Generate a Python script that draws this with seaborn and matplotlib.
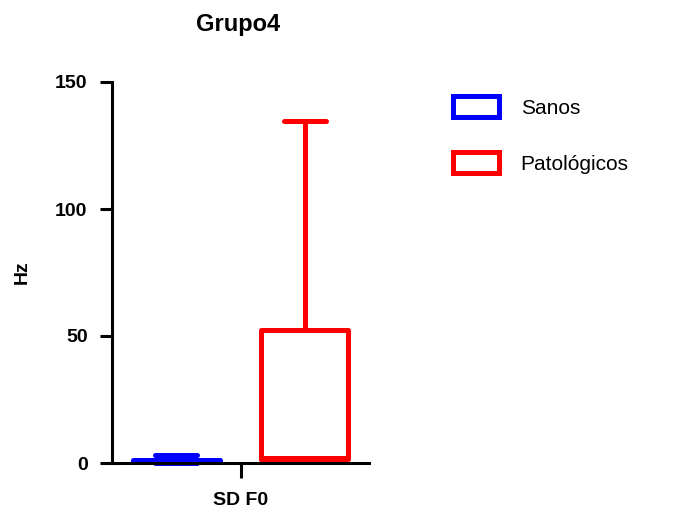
import matplotlib
matplotlib.use("Agg")
import matplotlib.pyplot as plt
import seaborn as sns
import pandas as pd
from matplotlib.patches import Patch

# ---- data ----
category = "SD F0"
groups = ["Sanos", "Patológicos"]
sanos_values = [0.1, 0.5, 0.9, 1.3, 3.3]
patologicos_values = [0.4, 1.5, 1.8, 52.2, 134.6]
colors = ["#0000FF", "#FF0000"]
yticks = [0, 50, 100, 150]
title = "Grupo4"
ylabel = "Hz"

df = pd.DataFrame({
    "cat": [category] * (len(sanos_values) + len(patologicos_values)),
    "grupo": [groups[0]] * len(sanos_values) + [groups[1]] * len(patologicos_values),
    "valor": sanos_values + patologicos_values,
})

sns.set_style("ticks")
plt.rcParams["font.family"] = ["Liberation Sans", "DejaVu Sans"]
plt.rcParams["text.color"] = "black"

fig = plt.figure(figsize=(6.78, 5.15), dpi=100)
ax = fig.add_axes([112 / 678, 1 - 463 / 515, (369 - 112) / 678, (463 - 82) / 515])

lw = 3.6
sns.boxplot(
    data=df, x="cat", y="valor", hue="grupo", hue_order=groups,
    palette=colors, fill=False, whis=(0, 100), width=1.0, gap=0.32,
    linewidth=lw, showfliers=False, legend=False, ax=ax,
    capwidths=0.165,
)
for art in ax.lines + ax.patches:
    art.set_clip_on(False)

ax.set_xlim(-0.5, 0.5)
ax.set_ylim(0, 150)
ax.set_yticks(yticks)
ax.set_yticklabels([str(t) for t in yticks], fontweight="bold", fontsize=14)
ax.set_xticks([0])
ax.set_xticklabels([category], fontweight="bold", fontsize=14)
ax.set_xlabel("")
ax.set_ylabel(ylabel, fontweight="bold", fontsize=14, color="black")
ax.yaxis.set_label_coords(-0.315, 0.5)

for s in ["top", "right"]:
    ax.spines[s].set_visible(False)
for s in ["left", "bottom"]:
    ax.spines[s].set_linewidth(2.2)
    ax.spines[s].set_color("black")
    ax.spines[s].set_zorder(5)
ax.tick_params(axis="y", length=8.6, width=2.2, pad=9, colors="black")
ax.tick_params(axis="x", length=11, width=2.2, pad=10, colors="black")

fig.text(238 / 678, 1 - 24 / 515, title, ha="center", va="center",
         fontsize=17, fontweight="bold", color="black")

handles = [Patch(facecolor="white", edgecolor=c, linewidth=lw) for c in colors]
leg = fig.legend(handles, groups, loc="upper left",
                 bbox_to_anchor=(453 / 678, 1 - 96 / 515), bbox_transform=fig.transFigure,
                 frameon=False, fontsize=15, borderpad=0, borderaxespad=0,
                 handlelength=2.2, handleheight=1.2, handletextpad=1.05,
                 labelspacing=1.65)
for t in leg.get_texts():
    t.set_color("black")

fig.savefig("out.png", dpi=100)
